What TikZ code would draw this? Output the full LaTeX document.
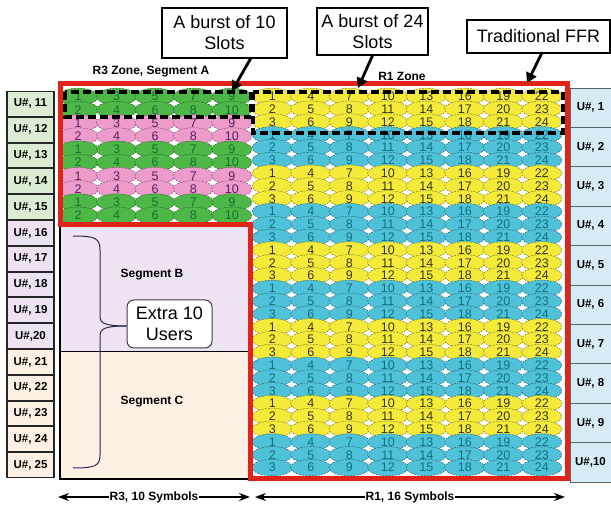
\documentclass[tikz,border=0pt]{standalone}
\usepackage{fontspec}
\setmainfont{Liberation Sans}
\usetikzlibrary{arrows.meta,shapes.geometric,calc}
\definecolor{redz}{HTML}{E2231A}
\definecolor{cgreen}{HTML}{4DB848}
\definecolor{tgreen}{HTML}{17702E}
\definecolor{cpink}{HTML}{EC9BCB}
\definecolor{tpink}{HTML}{5B1E5E}
\definecolor{cyel}{HTML}{F4EA3A}
\definecolor{tyel}{HTML}{3A3618}
\definecolor{ccyan}{HTML}{4FC1D8}
\definecolor{tcyan}{HTML}{0E7282}
\definecolor{ugreen}{HTML}{DCEBD3}
\definecolor{ulav}{HTML}{EDE2F1}
\definecolor{upeach}{HTML}{FCEFE3}
\definecolor{ublue}{HTML}{D6EBF3}
\definecolor{segB}{HTML}{EFE4F4}
\definecolor{segC}{HTML}{FDF1E6}
\definecolor{bracec}{HTML}{2A2A4A}
\begin{document}
\begin{tikzpicture}[x=1pt,y=-1pt,
  cellnum/.style={font=\fontsize{12.5}{12.5}\selectfont, inner sep=0pt},
  cellshape/.style={dash pattern=on 2pt off 1.2pt, line width=0.5pt},
  ubox/.style={draw=black!85, line width=1.3pt, font=\bfseries\fontsize{11.5}{12}\selectfont, inner sep=0pt, minimum width=47pt, minimum height=25pt},
  rbox/.style={draw=black!30!ublue!60!black, line width=0.8pt, fill=ublue, font=\bfseries\fontsize{11.5}{12}\selectfont, inner sep=0pt, minimum width=45pt, minimum height=39.4pt},
  callout/.style={draw=black, line width=1.2pt, fill=white, align=center, font=\fontsize{18}{21}\selectfont, inner sep=0pt},
  zonelbl/.style={font=\bfseries\fontsize{12}{12}\selectfont, inner sep=0pt},
  burstbox/.style={line width=3.5pt, dash pattern=on 8pt off 4pt},
  callarrow/.style={line width=2.8pt, -{Triangle[length=10pt,width=11pt]}},
  dimarrow/.style={line width=1.4pt, {Stealth[length=11pt,width=8pt]}-{Stealth[length=11pt,width=8pt]}},
]
\useasboundingbox (0,0) rectangle (611,505);
\fill[white] (0,0) rectangle (611,505);
% segments B and C
\fill[segB] (60,225) rectangle (250,352);
\fill[segC] (60,352) rectangle (250,478);
% R3 segment A cells
\foreach \g in {0,...,4}{
  \pgfmathtruncatemacro{\gp}{mod(\g,2)}
  \ifnum\gp=0 \def\cf{cgreen}\else\def\cf{cpink}\fi
  \foreach \k in {0,1}{
    \foreach \c in {0,...,4}{
      \pgfmathsetmacro{\xx}{59+38.4*\c+19.2}
      \pgfmathsetmacro{\yy}{90+13.2*(2*\g+\k)+6.6}
      \filldraw[cellshape, fill=\cf, draw=\cf!55!black] (\xx,\yy) ellipse [x radius=20.2pt, y radius=8.4pt];
    }
  }
}
% R1 cells
\foreach \g in {0,...,9}{
  \pgfmathtruncatemacro{\gp}{mod(\g,2)}
  \ifnum\gp=0 \def\cf{cyel}\else\def\cf{ccyan}\fi
  \foreach \k in {0,1,2}{
    \foreach \c in {0,...,7}{
      \pgfmathsetmacro{\xx}{253+38.5*\c+19.25}
      \pgfmathsetmacro{\yy}{90+12.8*(3*\g+\k)+6.4}
      \filldraw[cellshape, fill=\cf, draw=\cf!55!black] (\xx,\yy) ellipse [x radius=20.2pt, y radius=8.2pt];
    }
  }
}
% numbers R3
\foreach \g in {0,...,4}{
  \pgfmathtruncatemacro{\gp}{mod(\g,2)}
  \ifnum\gp=0 \def\ct{tgreen}\else\def\ct{tpink}\fi
  \foreach \k in {0,1}{
    \foreach \c in {0,...,4}{
      \pgfmathsetmacro{\xx}{59+38.4*\c+19.2}
      \pgfmathsetmacro{\yy}{90+13.2*(2*\g+\k)+6.6}
      \pgfmathtruncatemacro{\nn}{2*\c+\k+1}
      \node[cellnum, text=\ct] (a-\g-\k-\c) at (\xx,\yy) {\nn};
    }
  }
}
% numbers R1
\foreach \g in {0,...,9}{
  \pgfmathtruncatemacro{\gp}{mod(\g,2)}
  \ifnum\gp=0 \def\ct{tyel}\else\def\ct{tcyan}\fi
  \foreach \k in {0,1,2}{
    \foreach \c in {0,...,7}{
      \pgfmathsetmacro{\xx}{253+38.5*\c+19.25}
      \pgfmathsetmacro{\yy}{90+12.8*(3*\g+\k)+6.4}
      \pgfmathtruncatemacro{\nn}{3*\c+\k+1}
      \node[cellnum, text=\ct] (b-\g-\k-\c) at (\xx,\yy) {\nn};
    }
  }
}
% burst boxes
\draw[burstbox] (65,92) rectangle (251,117);
\draw[burstbox] (253,92) rectangle (563,133);
% black frame of segments B, C
\draw[line width=1.8pt] (60,225) -- (60,479) -- (250,479);
\draw[line width=1pt] (60,352) -- (250,352);
% red zone border
\draw[redz, line width=5pt, line join=miter] (60,84) -- (567,84) -- (567,478) -- (250,478) -- (250,225) -- (60,225) -- cycle;
% left user boxes
\foreach \i/\t in {0/{U\#, 11},1/{U\#, 12},2/{U\#, 13},3/{U\#, 14},4/{U\#, 15}}
  \node[ubox, fill=ugreen] (L\i) at (30.5, 91+25.8*\i+12.9) {\t};
\foreach \i/\t in {5/{U\#, 16},6/{U\#, 17},7/{U\#, 18},8/{U\#, 19},9/{U\#,20}}
  \node[ubox, fill=ulav] (L\i) at (30.5, 91+25.8*\i+12.9) {\t};
\foreach \i/\t in {10/{U\#, 21},11/{U\#, 22},12/{U\#, 23},13/{U\#, 24},14/{U\#, 25}}
  \node[ubox, fill=upeach] (L\i) at (30.5, 91+25.8*\i+12.9) {\t};
% right user boxes
\foreach \i/\t in {0/{U\#, 1},1/{U\#, 2},2/{U\#, 3},3/{U\#, 4},4/{U\#, 5},5/{U\#, 6},6/{U\#, 7},7/{U\#, 8},8/{U\#, 9},9/{U\#,10}}
  \node[rbox] (R\i) at (592.5, 88+39.4*\i+19.7) {\hspace*{-4pt}\t};
% zone labels
\node[zonelbl] (z3) at (151,72) {R3 Zone, Segment A};
\node[zonelbl] (z1) at (402,76) {R1 Zone};
\node[zonelbl] (sb) at (152,275) {Segment B};
\node[zonelbl] (sc) at (152,402) {Segment C};
% callouts
\node[callout, minimum width=125pt, minimum height=50pt] (b10) at (224.5,33) {A burst of 10\\Slots};
\node[callout, minimum width=111pt, minimum height=47pt] (b24) at (372.5,31.5) {A burst of 24\\Slots};
\node[callout, minimum width=143pt, minimum height=33pt] (ffr) at (538.5,36.5) {Traditional FFR};
\coordinate (t10) at (232,91);
\coordinate (t24) at (358,88);
\coordinate (tffr) at (527,83);
\draw[callarrow] ([xshift=-37pt]b10.south east) -- (t10);
\draw[callarrow] (b24.south) -- (t24);
\draw[callarrow] ([xshift=-69pt]ffr.south east) -- (tffr);
% brace and extra users
\node[callout, rounded corners=7pt, draw=black!75, line width=1pt, minimum width=85pt, minimum height=48pt] (extra) at (169.5,324) {Extra 10\\Users};
\coordinate (btop) at (73,236);
\coordinate (bbot) at (73,468);
\draw[bracec, line width=1pt] (btop) .. controls (95,236) and (100,238) .. (100,250) -- (100,316) .. controls (100,323) and (104,326) .. (extra.west |- 0,326);
\draw[bracec, line width=1pt] (extra.west |- 0,326) .. controls (104,326) and (100,329) .. (100,336) -- (100,455) .. controls (100,466) and (95,468) .. (bbot);
% dimension arrows
\coordinate (d1) at (58,497);
\coordinate (d2) at (250,497);
\coordinate (d3) at (255,497);
\coordinate (d4) at (565,497);
\draw[dimarrow] (d1) -- node[zonelbl, fill=white, inner xsep=1pt, inner ysep=2pt] (r3l) {R3, 10 Symbols} (d2);
\draw[dimarrow] (d3) -- node[zonelbl, fill=white, inner xsep=1pt, inner ysep=2pt] (r1l) {R1, 16 Symbols} (d4);
\end{tikzpicture}
\end{document}
